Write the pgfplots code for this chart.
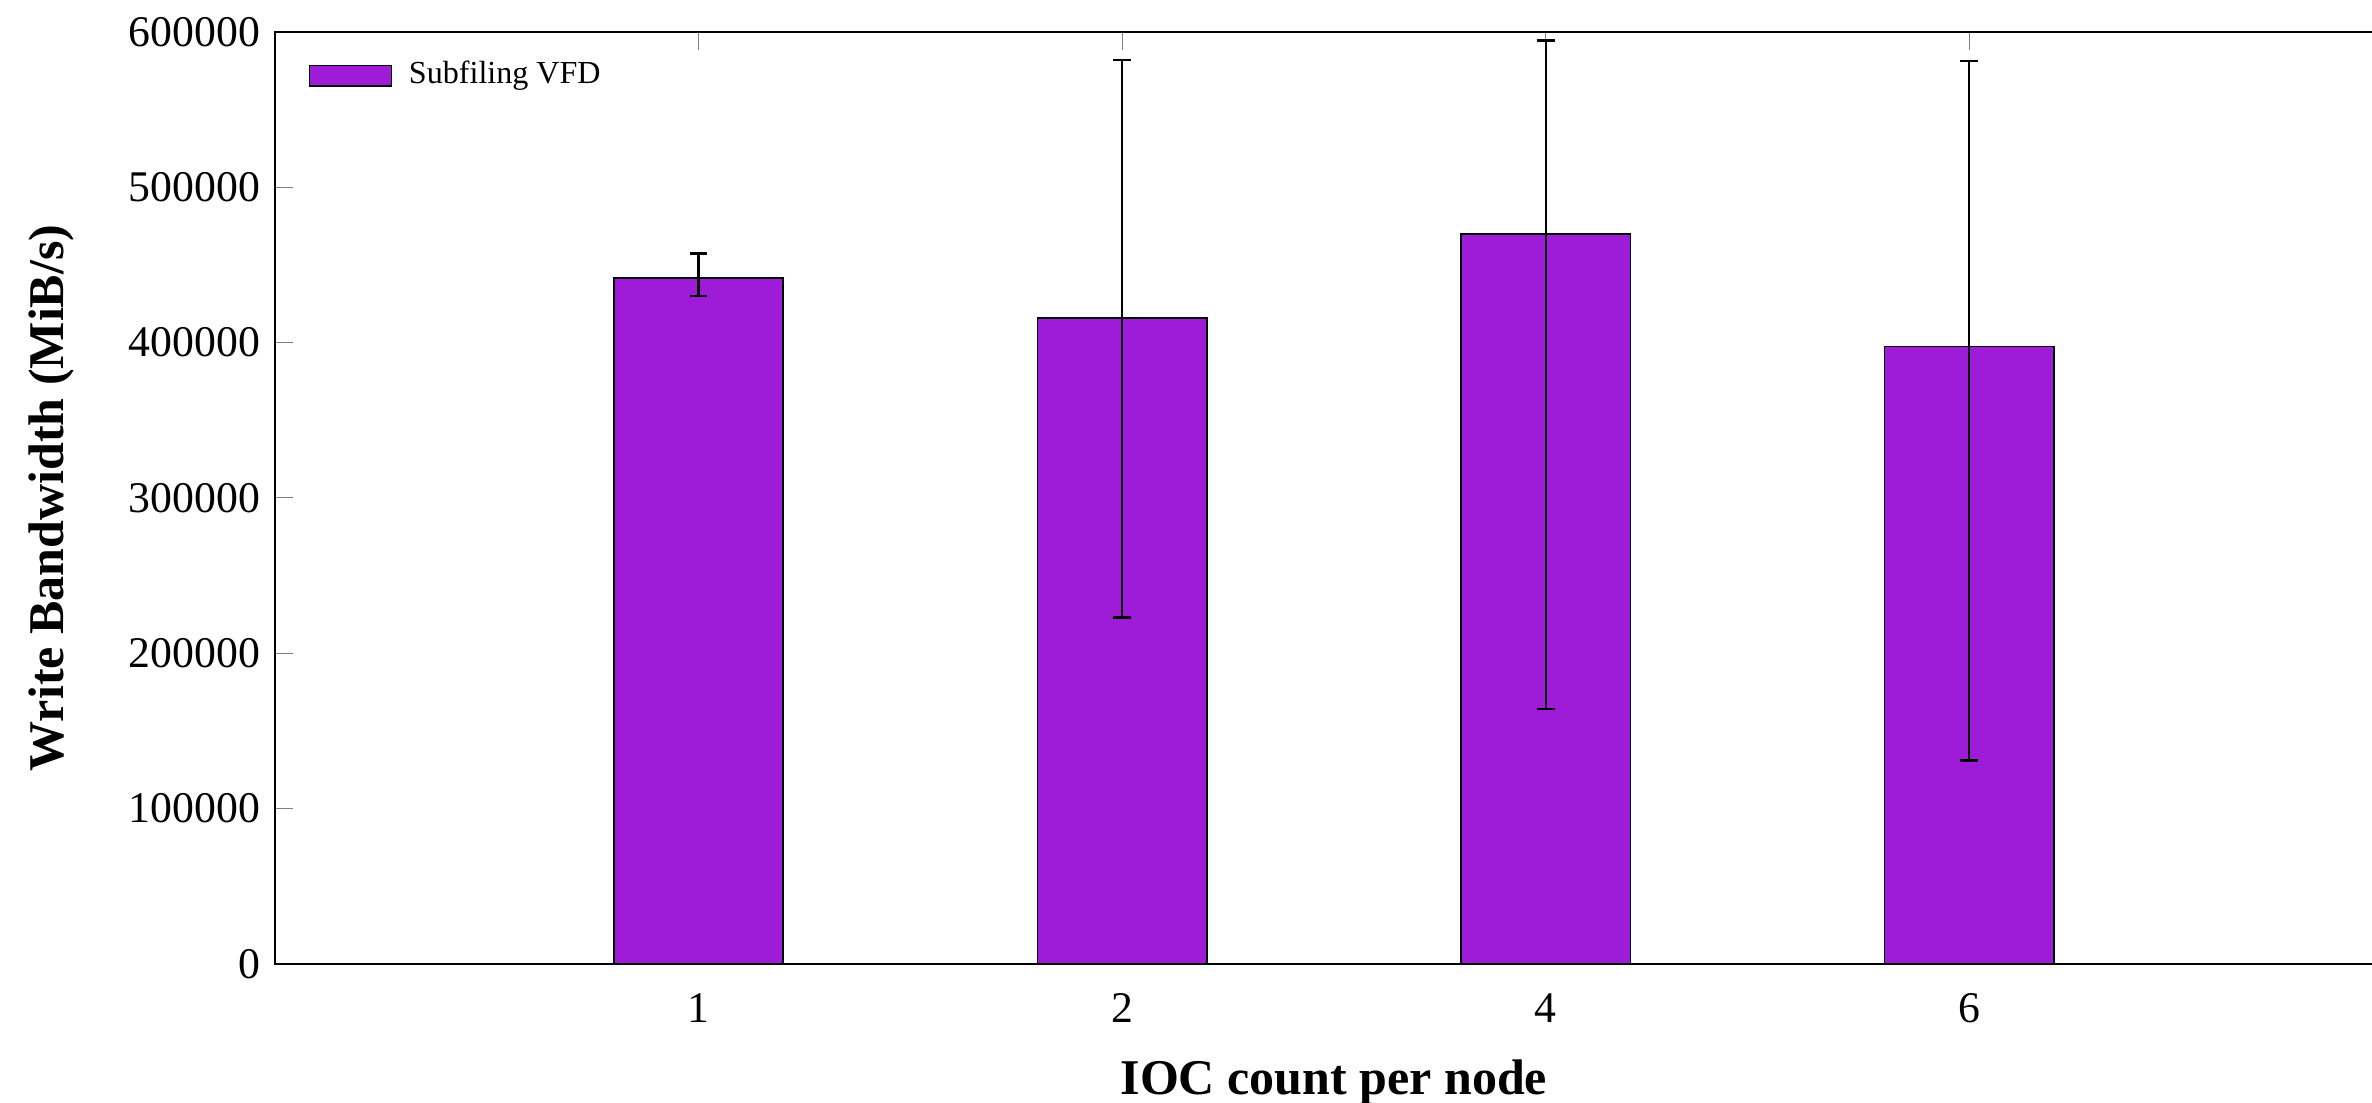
\documentclass[border=0pt]{standalone}
\usepackage{fontspec}
\setmainfont{Liberation Serif}
\usepackage{pgfplots}
\pgfplotsset{compat=1.18}
\usetikzlibrary{calc}
\definecolor{BarViolet}{RGB}{158,27,216}
\begin{document}
\begin{tikzpicture}
\begin{axis}[
    name=ax,
    ybar, bar width=0.4,
    scale only axis,
    width=17.86cm, height=7.858cm,
    xtick pos=upper, xticklabel pos=lower, ytick pos=left,
    tick align=inside,
    major tick length=4.3pt,
    xmin=0, xmax=5,
    ymin=0, ymax=600000,
    xtick={1,2,3,4},
    xticklabels={1,2,4,6},
    ytick={0,100000,...,600000},
    scaled y ticks=false,
    /pgf/number format/assume math mode=true,
    yticklabel={\pgfmathprintnumber[fixed,precision=0,1000 sep={}]{\tick}},
    ticklabel style={font=\fontsize{10.5}{12}\selectfont},
    xticklabel style={yshift=-3.6pt},
    xlabel={\textbf{IOC count per node}},
    ylabel={\textbf{Write Bandwidth (MiB/s)}},
    every axis x label/.style={at={(axis description cs:0.5,-0.1274)}, anchor=center,
        font=\fontsize{12}{14}\selectfont},
    every axis y label/.style={at={(axis description cs:-0.1053,0.5)}, rotate=90, anchor=center,
        font=\fontsize{12}{14}\selectfont},
    legend style={at={(axis description cs:0.0156,0.953)}, anchor=west,
        draw=none, fill=none, inner sep=0pt, font=\fontsize{7.7}{9.5}\selectfont,
        nodes={inner xsep=4pt}},
    legend image code/.code={\draw[#1] (0cm,-0.088cm) rectangle (0.69cm,0.088cm);},
]
\addplot[fill=BarViolet, draw=black, line width=0.4pt,
    error bars/.cd, y dir=both, y explicit,
    error bar style={line width=0.55pt, black},
    error mark options={rotate=90, mark size=2.15pt, line width=0.6pt, black}]
coordinates {
    (1,441400) += (0,15900) -= (0,11400)
    (2,416000) += (0,166000) -= (0,193100)
    (3,469800) += (0,124600) -= (0,305600)
    (4,397400) += (0,183900) -= (0,266500)
};
\addlegendentry{Subfiling VFD}
\coordinate (rb) at (axis cs:4.951,600000);
\end{axis}
\pgfresetboundingbox
\path[use as bounding box] ($(ax.south west)+(-2.319cm,-1.172cm)$) rectangle ($(rb)+(0,0.270cm)$);
\end{tikzpicture}
\end{document}
